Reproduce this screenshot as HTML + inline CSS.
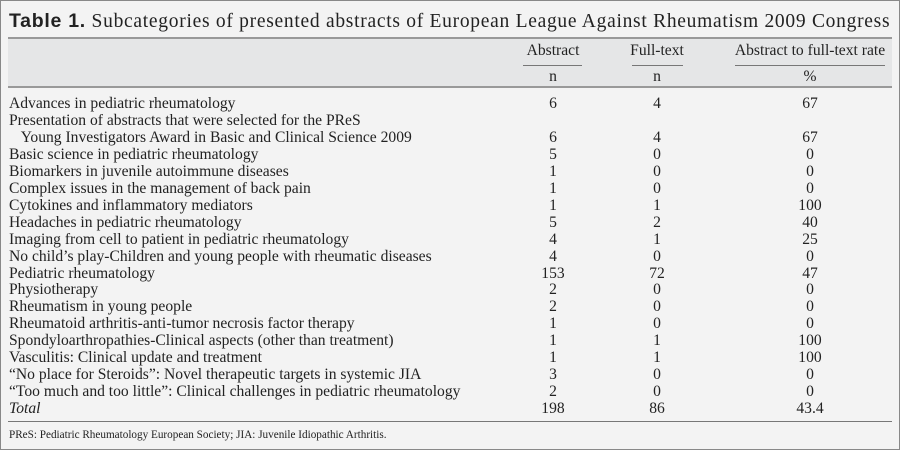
<!DOCTYPE html>
<html><head><meta charset="utf-8"><style>
html,body{margin:0;padding:0}
body{width:900px;height:450px;background:#f3f3f3;position:relative;overflow:hidden;font-family:"Liberation Serif",serif;color:#222}
.frame{position:absolute;left:0;top:0;width:898px;height:448px;border:1px solid #888}
.t{position:absolute;white-space:nowrap;font-size:15.6px;line-height:17px}
.c{position:absolute;white-space:nowrap;font-size:15.6px;line-height:17px;text-align:center;transform:translateX(-50%)}
.hr{position:absolute;height:2px;background:#999}
.ul{position:absolute;height:1px;background:#777}
</style></head><body>
<div class="frame"></div>
<div class="t" style="left:9px;top:9px;font-size:19.5px;line-height:24px;letter-spacing:0.72px"><b style="font-family:'Liberation Sans',sans-serif">Table 1.</b> Subcategories of presented abstracts of European League Against Rheumatism 2009 Congress</div>
<div style="position:absolute;left:8px;top:37px;width:884px;height:50px;background:#e5e6e7"></div>
<div class="hr" style="left:8px;top:37px;width:884px"></div>
<div class="hr" style="left:8px;top:86px;width:884px"></div>
<div class="c" style="left:553px;top:42px">Abstract</div>
<div class="c" style="left:657px;top:42px">Full-text</div>
<div class="c" style="left:810px;top:42px">Abstract to full-text rate</div>
<div class="ul" style="left:523px;top:65px;width:59px"></div>
<div class="ul" style="left:632px;top:65px;width:51px"></div>
<div class="ul" style="left:735px;top:65px;width:150px"></div>
<div class="c" style="left:553px;top:68px">n</div>
<div class="c" style="left:657px;top:68px">n</div>
<div class="c" style="left:810px;top:68px">%</div>
<div id="rows"></div>
<div class="hr" style="left:8px;top:421px;width:884px;height:1px;background:#777"></div>
<div class="t" style="left:9px;top:428px;font-size:11.2px;line-height:14px">PReS: Pediatric Rheumatology European Society; JIA: Juvenile Idiopathic Arthritis.</div>
<script>
var d=[["Advances in pediatric rheumatology","6","4","67"],
["Presentation of abstracts that were selected for the PReS","","",""],
["&nbsp;&nbsp;&nbsp;Young Investigators Award in Basic and Clinical Science 2009","6","4","67"],
["Basic science in pediatric rheumatology","5","0","0"],
["Biomarkers in juvenile autoimmune diseases","1","0","0"],
["Complex issues in the management of back pain","1","0","0"],
["Cytokines and inflammatory mediators","1","1","100"],
["Headaches in pediatric rheumatology","5","2","40"],
["Imaging from cell to patient in pediatric rheumatology","4","1","25"],
["No child’s play-Children and young people with rheumatic diseases","4","0","0"],
["Pediatric rheumatology","153","72","47"],
["Physiotherapy","2","0","0"],
["Rheumatism in young people","2","0","0"],
["Rheumatoid arthritis-anti-tumor necrosis factor therapy","1","0","0"],
["Spondyloarthropathies-Clinical aspects (other than treatment)","1","1","100"],
["Vasculitis: Clinical update and treatment","1","1","100"],
["“No place for Steroids”: Novel therapeutic targets in systemic JIA","3","0","0"],
["“Too much and too little”: Clinical challenges in pediatric rheumatology","2","0","0"],
["<i>Total</i>","198","86","43.4"]];
var h="";d.forEach(function(r,i){var y=95+i*16.95;
h+='<div class="t" style="left:9px;top:'+y+'px">'+r[0]+'</div>';
h+='<div class="c" style="left:553px;top:'+y+'px">'+r[1]+'</div>';
h+='<div class="c" style="left:657px;top:'+y+'px">'+r[2]+'</div>';
h+='<div class="c" style="left:810px;top:'+y+'px">'+r[3]+'</div>';});
document.getElementById("rows").innerHTML=h;
</script>
</body></html>
